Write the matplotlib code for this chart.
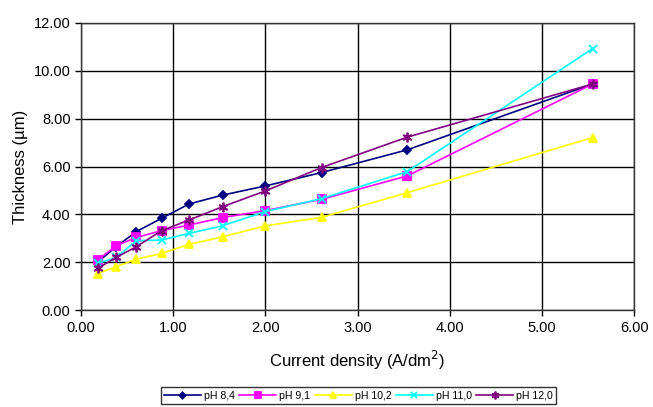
import matplotlib.pyplot as plt

plt.rcParams['font.family'] = ['Liberation Sans', 'DejaVu Sans']

current = [0.18, 0.38, 0.60, 0.875, 1.175, 1.54, 2.00, 2.61, 3.54, 5.55]

ph84 = [2.00, 2.65, 3.28, 3.84, 4.44, 4.81, 5.19, 5.75, 6.70, 9.45]
ph91 = [2.09, 2.69, 3.04, 3.32, 3.56, 3.87, 4.16, 4.63, 5.61, 9.45]
ph102 = [1.53, 1.81, 2.13, 2.37, 2.75, 3.07, 3.52, 3.88, 4.91, 7.21]
ph110 = [1.95, 2.20, 2.90, 2.93, 3.21, 3.53, 4.12, 4.66, 5.79, 10.93]
ph120 = [1.74, 2.20, 2.65, 3.32, 3.77, 4.33, 4.98, 5.96, 7.23, 9.45]

series = [
    ("pH 8,4", ph84, "#000080", "D", 4),
    ("pH 9,1", ph91, "#ff00ff", "s", 6),
    ("pH 10,2", ph102, "#ffff00", "^", 6),
    ("pH 11,0", ph110, "#00ffff", "x", 6),
    ("pH 12,0", ph120, "#800080", (6, 2, 0), 7),
]

fig = plt.figure(figsize=(6.53, 4.07), dpi=100)
ax = fig.add_axes([0.124, 0.238, 0.847, 0.7055])

for name, vals, color, marker, ms in series:
    ax.plot(current, vals, color=color, marker=marker, markersize=ms,
            linewidth=1.2, markeredgewidth=1.3, label=name)

ax.set_xlim(0, 6)
ax.set_ylim(0, 12)
ax.set_xticks(range(0, 7))
ax.set_yticks(range(0, 13, 2))
ax.set_xticklabels([f"{v:.2f}" for v in range(0, 7)])
ax.set_yticklabels([f"{v:.2f}" for v in range(0, 13, 2)])
ax.tick_params(labelsize=10.5, length=4, width=1, color="black", direction="out")
ax.grid(True, color="black", linewidth=1)
for s in ax.spines.values():
    s.set_color("#333333")
    s.set_linewidth(1)

ax.set_xlabel("Current density (A/dm$^2$)", fontsize=12, labelpad=10)
ax.set_ylabel("Thickness (µm)", fontsize=12, labelpad=4)

leg = fig.legend(loc="lower center", bbox_to_anchor=(0.549, -0.005), ncol=5,
                 fontsize=7.6, frameon=True, fancybox=False, edgecolor="black",
                 handlelength=3.5, columnspacing=0.4, handletextpad=0.3,
                 borderpad=0.3, markerscale=0.8)
leg.get_frame().set_linewidth(1)

fig.savefig("out.png", dpi=100)
plt.close()
